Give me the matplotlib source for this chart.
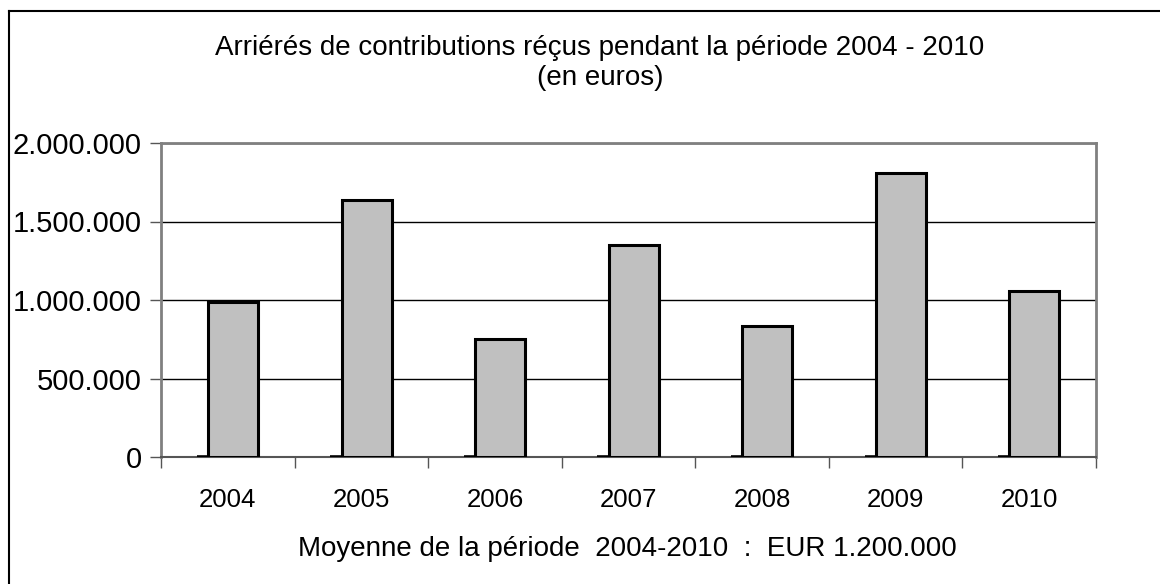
# Arriérés de contributions - bar chart (Excel style)

import numpy as np
import matplotlib.pyplot as plt
from matplotlib.lines import Line2D

# ============================
# Data
# ============================

years = ["2004", "2005", "2006", "2007", "2008", "2009", "2010"]
arrears = [987000, 1636000, 751000, 1351000, 832000, 1806000, 1059000]
other_series = [0, 0, 0, 0, 0, 0, 0]

y_ticks = [0, 500000, 1000000, 1500000, 2000000]
y_labels = ["0", "500.000", "1.000.000", "1.500.000", "2.000.000"]

title = "Arriérés de contributions réçus pendant la période 2004 - 2010\n(en euros)"
footer = "Moyenne de la période  2004-2010  :  EUR 1.200.000"

# ============================
# Figure
# ============================

plt.rcParams["font.family"] = ["Liberation Sans", "DejaVu Sans"]

fig = plt.figure(figsize=(11.6, 5.84), dpi=100)
ax = fig.add_axes([161 / 1160, 1 - 457 / 584, 935 / 1160, 314 / 584])

x = np.arange(len(years))

# zero series drawn as flat bars left of the main bars
ax.bar(x - 0.233 + 0.041, other_series, width=0.082,
       color="#C0C0C0", edgecolor="black", linewidth=2.6, zorder=3)

ax.bar(x + 0.039, arrears, width=0.374,
       color="#C0C0C0", edgecolor="black", linewidth=2.2, zorder=3)

ax.set_xlim(-0.5, len(years) - 0.5)
ax.set_ylim(0, 2000000)

ax.set_yticks(y_ticks)
ax.set_yticklabels(y_labels, fontsize=21)
ax.tick_params(axis="y", length=8, width=1, color="#555555", pad=6)

# category boundaries as ticks, labels in the middle
ax.set_xticks(np.arange(len(years) + 1) - 0.5)
ax.set_xticklabels([])
ax.tick_params(axis="x", which="major", length=8, width=1, color="#555555")
ax.set_xticks(x, minor=True)
ax.set_xticklabels(years, minor=True, fontsize=18.5)
ax.tick_params(axis="x", which="minor", length=0, pad=22)

ax.grid(axis="y", color="black", linewidth=1, zorder=0)
ax.set_axisbelow(True)

for side in ["left", "top", "right"]:
    ax.spines[side].set_color("#808080")
    ax.spines[side].set_linewidth(2)
ax.spines["bottom"].set_color("#555555")
ax.spines["bottom"].set_linewidth(1.5)

fig.text(600 / 1160, 1 - 63 / 584, title, ha="center", va="center",
         fontsize=20, linespacing=1.2)
fig.text(627 / 1160, 1 - 549 / 584, footer, ha="center", va="center",
         fontsize=20)

# outer chart border (left and top only are visible)
fig.add_artist(Line2D([8.5 / 1160, 8.5 / 1160], [0, 1 - 11 / 584],
                      transform=fig.transFigure, color="black", linewidth=1.5))
fig.add_artist(Line2D([8.5 / 1160, 1], [1 - 11 / 584, 1 - 11 / 584],
                      transform=fig.transFigure, color="black", linewidth=1.5))

fig.savefig("out.png", dpi=100, facecolor="white")
